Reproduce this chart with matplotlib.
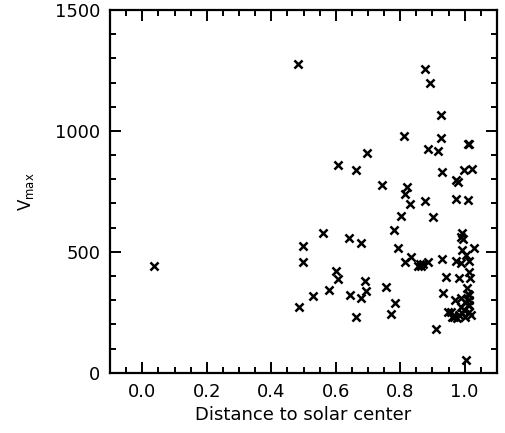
import matplotlib
matplotlib.use('Agg')
import matplotlib.pyplot as plt
from matplotlib.ticker import MultipleLocator

# distance to solar center (fraction of radius) and v_max values
dist = [0.037, 0.484, 0.487, 0.497, 0.497, 0.528, 0.559, 0.580, 0.601, 0.606,
        0.606, 0.642, 0.645, 0.663, 0.663, 0.678, 0.678, 0.691, 0.694, 0.696,
        0.743, 0.756, 0.771, 0.783, 0.781, 0.792, 0.802, 0.812, 0.816, 0.822,
        0.816, 0.831, 0.833, 0.854, 0.862, 0.865, 0.871, 0.877, 0.877, 0.885,
        0.885, 0.892, 0.902, 0.912, 0.916, 0.928, 0.928, 0.929, 0.931, 0.932,
        0.942, 0.947, 0.973, 0.978, 0.973, 0.973, 0.967, 0.983, 0.988, 0.989,
        0.993, 0.995, 0.991, 0.998, 1.004, 1.005, 1.007, 1.009, 1.011, 1.014,
        1.012, 1.014, 1.014, 1.017, 1.024, 1.030, 0.983, 0.993,
        0.971, 0.988, 1.009, 1.014, 0.988, 1.009, 0.957, 0.962, 0.998, 1.014,
        1.001, 1.014, 0.977, 1.020, 1.000]
vmax = [441, 1278, 270, 526, 459, 317, 580, 342, 422, 386,
        861, 558, 322, 837, 232, 535, 309, 379, 338, 907,
        775, 353, 242, 289, 589, 517, 648, 978, 740, 769,
        458, 697, 479, 443, 449, 443, 449, 1256, 709, 926,
        460, 1198, 644, 180, 917, 1067, 969, 830, 471, 330,
        397, 253, 796, 789, 719, 464, 232, 390, 455, 562,
        578, 555, 506, 840, 486, 54, 349, 716, 947, 945,
        418, 463, 322, 394, 844, 518, 239, 246,
        301, 308, 326, 301, 273, 280, 253, 232, 260, 280,
        232, 251, 227, 239, 293]

plt.rcParams['font.family'] = 'DejaVu Sans'

fig = plt.figure(figsize=(5.05, 4.33), dpi=100)
ax = fig.add_axes([0.218, 0.139, 0.766, 0.838])

ax.scatter(dist, vmax, marker='x', s=34, c='black', linewidths=1.8)

ax.set_xlim(-0.1, 1.1)
ax.set_ylim(0, 1500)
ax.xaxis.set_major_locator(MultipleLocator(0.2))
ax.xaxis.set_minor_locator(MultipleLocator(0.05))
ax.yaxis.set_major_locator(MultipleLocator(500))
ax.yaxis.set_minor_locator(MultipleLocator(100))
ax.xaxis.set_major_formatter(plt.FormatStrFormatter('%.1f'))

ax.tick_params(which='both', direction='in', top=True, right=True, width=1.4,
               labelsize=13, pad=7)
ax.tick_params(which='major', length=8)
ax.tick_params(which='minor', length=4.5)
for sp in ax.spines.values():
    sp.set_linewidth(1.6)

ax.set_xlabel('Distance to solar center', fontsize=13, labelpad=4)
ax.set_ylabel(r'$\mathregular{V_{max}}$', fontsize=12, labelpad=14)

fig.savefig('out.png', dpi=100)
